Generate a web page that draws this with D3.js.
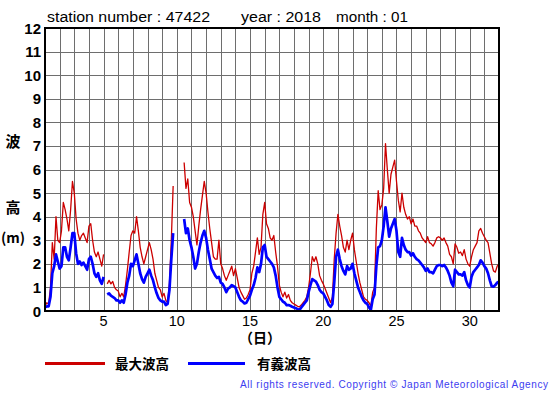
<!DOCTYPE html>
<html><head><meta charset="utf-8">
<script src="https://cdn.jsdelivr.net/npm/d3@7"></script>
<style>
html,body{margin:0;padding:0;background:#fff;}
svg{display:block;}
</style></head>
<body>
<svg id="chart" width="555" height="395"></svg>
<script>
// ---- data (3-hourly samples, 8 per day, day 1.0 .. 32.0) ----
const stationNumber = "47422";
const year = "2018";
const month = "01";
const stepsPerDay = 8;
const maxWave = [ // 最大波高 (m)
 0.2,0.35,0.3,1.0,2.9,2.2,4.0,3.0,
 2.9,3.4,4.6,4.3,3.9,3.4,4.3,5.5,
 5.0,3.9,3.3,3.0,3.2,3.3,3.1,2.9,
 3.6,3.7,3.0,2.5,2.3,2.5,2.2,1.9,
 2.4,null,1.15,1.3,1.15,1.25,1.0,0.9,
 0.85,0.6,0.75,0.6,1.1,1.75,2.5,3.2,
 3.4,3.3,4.0,3.4,2.7,2.3,2.0,2.3,
 2.6,2.9,2.6,2.2,1.6,1.3,1.0,0.9,
 0.6,0.75,0.45,0.35,1.2,3.0,5.3,null,
 null,null,null,null,6.3,5.2,5.6,4.6,
 4.4,4.0,3.4,2.8,3.6,4.3,4.9,5.5,
 5.0,4.2,3.5,2.9,2.3,2.2,2.2,3.0,
 2.0,1.8,1.5,1.3,1.5,1.7,1.9,1.5,
 1.8,1.4,1.0,0.8,0.65,0.5,0.55,0.7,
 0.9,1.6,1.9,2.5,3.1,2.4,2.7,4.1,
 4.6,3.7,3.5,3.1,3.0,3.2,2.5,1.9,
 1.1,0.8,0.6,0.8,0.55,0.7,0.45,0.35,
 0.3,0.25,0.2,0.18,0.25,0.35,0.45,0.6,
 1.0,1.6,2.3,2.1,2.3,2.0,1.5,1.3,
 1.15,0.95,0.75,0.55,0.35,0.6,2.2,3.3,
 4.1,3.6,3.2,2.7,2.5,3.0,2.6,3.0,
 3.3,2.6,2.1,1.6,1.2,0.9,0.6,0.5,
 0.45,0.35,0.2,0.8,1.0,3.5,5.1,4.3,
 4.5,5.2,7.1,6.0,5.0,5.8,6.1,6.4,
 5.5,4.7,4.2,5.0,4.4,4.1,3.9,4.0,
 3.7,3.9,3.6,3.6,3.4,3.3,3.1,3.0,
 2.9,3.15,2.9,2.85,2.75,2.9,3.1,3.15,
 3.1,3.0,3.1,2.9,2.75,2.4,2.3,2.0,
 2.85,2.7,2.45,2.5,2.35,2.6,2.2,2.0,
 1.9,2.3,2.6,2.75,2.9,3.4,3.5,3.3,
 3.15,3.0,2.9,2.45,2.0,1.7,1.65,1.9,
 2.0
];
const sigWave = [ // 有義波高 (m)
 0.15,0.2,0.2,0.6,1.6,1.9,2.4,2.1,
 1.8,1.9,2.7,2.7,2.3,2.15,2.7,3.3,
 3.3,2.45,2.0,2.1,1.95,2.05,1.9,1.75,
 2.2,2.3,2.0,1.6,1.45,1.6,1.3,1.15,
 1.45,null,0.7,0.75,0.65,0.6,0.55,0.45,
 0.45,0.35,0.45,0.35,0.7,1.2,1.5,2.0,
 1.9,2.15,2.4,2.0,1.6,1.35,1.2,1.45,
 1.6,1.75,1.5,1.3,1.0,0.75,0.55,0.45,
 0.4,0.4,0.25,0.3,0.9,2.2,3.3,null,
 null,null,null,null,3.9,3.3,3.5,3.0,
 2.7,2.3,1.8,2.0,2.5,2.9,3.2,3.4,
 3.1,2.6,2.2,1.8,1.65,1.5,1.4,1.45,
 1.2,1.15,1.0,0.8,0.95,1.0,1.1,1.05,
 1.0,0.8,0.6,0.45,0.4,0.32,0.35,0.5,
 0.65,0.9,1.1,1.4,1.85,1.65,2.0,2.7,
 2.8,2.3,2.2,2.1,2.0,1.85,1.5,1.0,
 0.6,0.5,0.4,0.35,0.25,0.25,0.22,0.18,
 0.15,0.12,0.08,0.04,0.15,0.25,0.35,0.45,
 0.8,1.1,1.35,1.3,1.25,1.1,0.9,0.8,
 0.75,0.6,0.45,0.25,0.18,0.3,1.2,2.3,
 2.6,2.2,1.9,1.7,1.55,1.9,1.75,1.8,
 2.0,1.6,1.3,1.0,0.8,0.6,0.45,0.35,
 0.3,0.15,0.05,0.5,0.7,1.9,2.7,2.75,
 3.0,3.6,4.4,3.8,3.15,3.5,3.7,3.9,
 3.4,2.5,2.3,3.1,2.8,2.6,2.5,2.5,
 2.35,2.45,2.3,2.2,2.15,2.05,1.95,1.85,
 1.7,1.8,1.65,1.65,1.6,1.75,1.9,1.95,
 1.95,1.9,1.95,1.85,1.7,1.5,1.2,1.05,
 1.75,1.65,1.55,1.55,1.5,1.65,1.3,1.1,
 1.0,1.45,1.65,1.75,1.85,1.95,2.15,2.05,
 1.9,1.8,1.6,1.3,1.05,1.03,1.1,1.2,
 1.25
];
const xTicks = [5, 10, 15, 20, 25, 30];
const yTicks = [0,1,2,3,4,5,6,7,8,9,10,11,12];
const dayDomain = [1, 32];
const legendLabels = ["最大波高", "有義波高"];
const seriesColors = ["#cc0000", "#0000ff"];

// ---- drawing ----
const svg = d3.select("#chart");
const L = 45, R = 499, T = 28, B = 311;
const x = d3.scaleLinear().domain(dayDomain).range([L, R]);
const y = d3.scaleLinear().domain([0, 12]).range([B, T]);
const latin = "'Liberation Sans', Arial, Helvetica, sans-serif";
const cjk = "'Noto Sans CJK JP', 'Noto Sans CJK SC', sans-serif";

svg.append("rect").attr("width", 555).attr("height", 395).attr("fill", "#fff");

// title
[[`station number : ${stationNumber}`, 47, 163],
 [`year : ${year}`, 241, 80],
 [`month : ${month}`, 336, 72]].forEach(([t, xx, len]) => {
  svg.append("text").attr("x", xx).attr("y", 22)
    .attr("font-family", latin).attr("font-size", 15.5).attr("fill", "#000")
    .attr("textLength", len).attr("lengthAdjust", "spacingAndGlyphs")
    .text(t);
});

// grid
const days = d3.range(dayDomain[0], dayDomain[1] + 1);
const g = svg.append("g");
g.selectAll("line.v").data(days).enter().append("line")
  .attr("x1", d => Math.round(x(d)) + 0.5).attr("x2", d => Math.round(x(d)) + 0.5)
  .attr("y1", T).attr("y2", B)
  .attr("stroke", "#6e6e6e").attr("stroke-width", 1);
g.selectAll("line.h").data(yTicks).enter().append("line")
  .attr("y1", d => Math.round(y(d)) + 0.5).attr("y2", d => Math.round(y(d)) + 0.5)
  .attr("x1", L).attr("x2", R)
  .attr("stroke", "#6e6e6e").attr("stroke-width", 1);

// series
const tOf = i => dayDomain[0] + i / stepsPerDay;
const line = d3.line().defined(d => d != null)
  .x((d, i) => x(tOf(i))).y(d => y(d));
svg.append("path").datum(maxWave).attr("d", line)
  .attr("fill", "none").attr("stroke", seriesColors[0]).attr("stroke-width", 1.3)
  .attr("stroke-linejoin", "round");
svg.append("path").datum(sigWave).attr("d", line)
  .attr("fill", "none").attr("stroke", seriesColors[1]).attr("stroke-width", 2.7)
  .attr("stroke-linejoin", "round");

// frame
svg.append("rect").attr("x", L).attr("y", T).attr("width", R - L).attr("height", B - T)
  .attr("fill", "none").attr("stroke", "#000").attr("stroke-width", 2);

// y tick labels
svg.selectAll("text.yt").data(yTicks).enter().append("text")
  .attr("x", 41).attr("y", d => y(d) + 5.5)
  .attr("text-anchor", "end").attr("font-family", latin)
  .attr("font-weight", "bold").attr("font-size", 15).attr("fill", "#000")
  .text(d => d);

// x tick labels
svg.selectAll("text.xt").data(xTicks).enter().append("text")
  .attr("x", d => x(d)).attr("y", 325.5)
  .attr("text-anchor", "middle").attr("font-family", latin)
  .attr("font-size", 14.5).attr("fill", "#000")
  .text(d => d);

// axis titles
svg.append("text").attr("x", 260).attr("y", 343).attr("text-anchor", "middle")
  .attr("font-family", cjk).attr("font-weight", "bold").attr("font-size", 14)
  .text("（日）");
[["波", 147], ["高", 213]].forEach(([t, yy]) => {
  svg.append("text").attr("x", 13).attr("y", yy).attr("text-anchor", "middle")
    .attr("font-family", cjk).attr("font-weight", "bold").attr("font-size", 15).text(t);
});
svg.append("text").attr("x", 13).attr("y", 243).attr("text-anchor", "middle")
  .attr("font-family", cjk).attr("font-weight", "bold").attr("font-size", 14).text("(m)");

// legend
const legX = [[45, 105, 115], [188, 245, 257]];
legendLabels.forEach((lab, k) => {
  svg.append("line").attr("x1", legX[k][0]).attr("x2", legX[k][1])
    .attr("y1", 363.5).attr("y2", 363.5)
    .attr("stroke", seriesColors[k]).attr("stroke-width", 3);
  svg.append("text").attr("x", legX[k][2]).attr("y", 369)
    .attr("font-family", cjk).attr("font-weight", "bold").attr("font-size", 13.5)
    .attr("fill", "#000").text(lab);
});

// copyright
svg.append("text").attr("x", 240).attr("y", 388)
  .attr("font-family", latin).attr("font-size", 10).attr("fill", "#3c3cf0")
  .attr("textLength", 308).attr("lengthAdjust", "spacing")
  .text("All rights reserved. Copyright © Japan Meteorological Agency");
</script>
</body></html>
